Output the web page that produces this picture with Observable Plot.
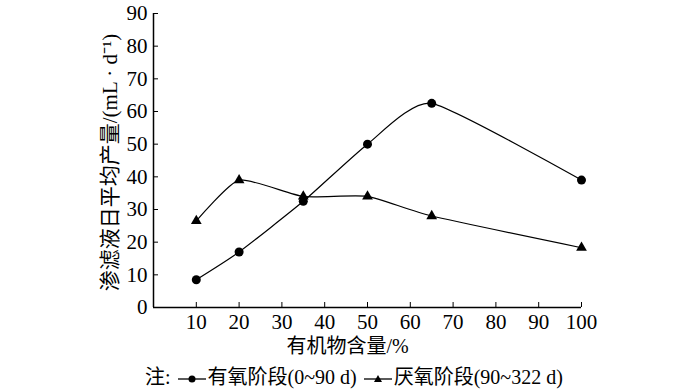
<!DOCTYPE html>
<html><head><meta charset="utf-8">
<script src="https://cdn.jsdelivr.net/npm/d3@7"></script>
<script src="https://cdn.jsdelivr.net/npm/@observablehq/plot@0.6"></script>
<style>
body{margin:0;background:#fff;}
#chart{width:700px;}
#legend{height:25px;font-size:20px;line-height:25px;padding-left:145px;white-space:nowrap;color:#000;font-family:"Liberation Serif","Noto Sans CJK SC",serif;}
#legend svg{vertical-align:middle;margin:0 1px;}
</style></head><body>
<div id="chart"></div>
<script>
const organic = [10, 20, 35, 50, 65, 100];
const aerobic = [8.5, 17, 32.5, 50, 62.5, 39];
const anaerobic = [26.5, 39, 34, 34, 28, 18.3];
const xTicks = [10, 20, 30, 40, 50, 60, 70, 80, 90, 100];
const yTicks = [0, 10, 20, 30, 40, 50, 60, 70, 80, 90];
const yLabel = "渗滤液日平均产量/(mL · d⁻¹)";
const xLabel = "有机物含量/%";
const seriesNames = ["有氧阶段(0~90 d)", "厌氧阶段(90~322 d)"];

const aer = organic.map((x, i) => ({x, y: aerobic[i]}));
const ana = organic.map((x, i) => ({x, y: anaerobic[i]}));

const font = "'Liberation Serif', 'Noto Sans CJK SC', serif";
const curve = "cardinal";
const plot = Plot.plot({
  width: 700, height: 365,
  marginLeft: 153, marginRight: 119, marginTop: 13, marginBottom: 58,
  style: {fontFamily: font, fontSize: "21px", color: "#000", background: "#fff"},
  x: {domain: [0, 100]},
  y: {domain: [0, 90]},
  marks: [
    Plot.ruleX([0], {y1: 0, y2: 90, stroke: "#000", strokeWidth: 1.5}),
    Plot.ruleY([0], {x1: 0, x2: 100, stroke: "#000", strokeWidth: 1.5}),
    Plot.axisX(xTicks, {tickSize: -5, tickPadding: 12, fontSize: 21, fontFamily: font, stroke: "#000", label: null}),
    Plot.axisY(yTicks, {tickSize: -5, tickPadding: 11, fontSize: 21, fontFamily: font, stroke: "#000", label: null}),
    Plot.line(aer, {x: "x", y: "y", curve, tension: 0.45, stroke: "#000", strokeWidth: 1.2}),
    Plot.line(ana, {x: "x", y: "y", curve, tension: 0.45, stroke: "#000", strokeWidth: 1.2}),
    Plot.dot(aer, {x: "x", y: "y", r: 4.5, fill: "#000", symbol: "circle"}),
    Plot.dot(ana, {x: "x", y: "y", r: 4, fill: "#000", symbol: "triangle"}),
    Plot.text([yLabel], {frameAnchor: "left", textAnchor: "middle", rotate: -90, dx: -43, dy: 2, fontSize: 21, fontFamily: font, fill: "#000"}),
    Plot.text([xLabel], {frameAnchor: "bottom", dy: 45, dx: -20, fontSize: 20, fontFamily: font, fill: "#000"})
  ]
});
document.getElementById("chart").appendChild(plot);

const legend = document.createElement("div");
legend.id = "legend";
const mk = (sym) => `<svg width="30" height="12"><line x1="1" y1="6" x2="29" y2="6" stroke="#000" stroke-width="1.3"/>${sym}</svg>`;
legend.innerHTML = `注: ${mk('<circle cx="15" cy="6" r="3.5" fill="#000"/>')}${seriesNames[0]} ${mk('<path d="M15,2 L19,9 L11,9 Z" fill="#000"/>')}${seriesNames[1]}`;
document.body.appendChild(legend);
</script>
</body></html>
